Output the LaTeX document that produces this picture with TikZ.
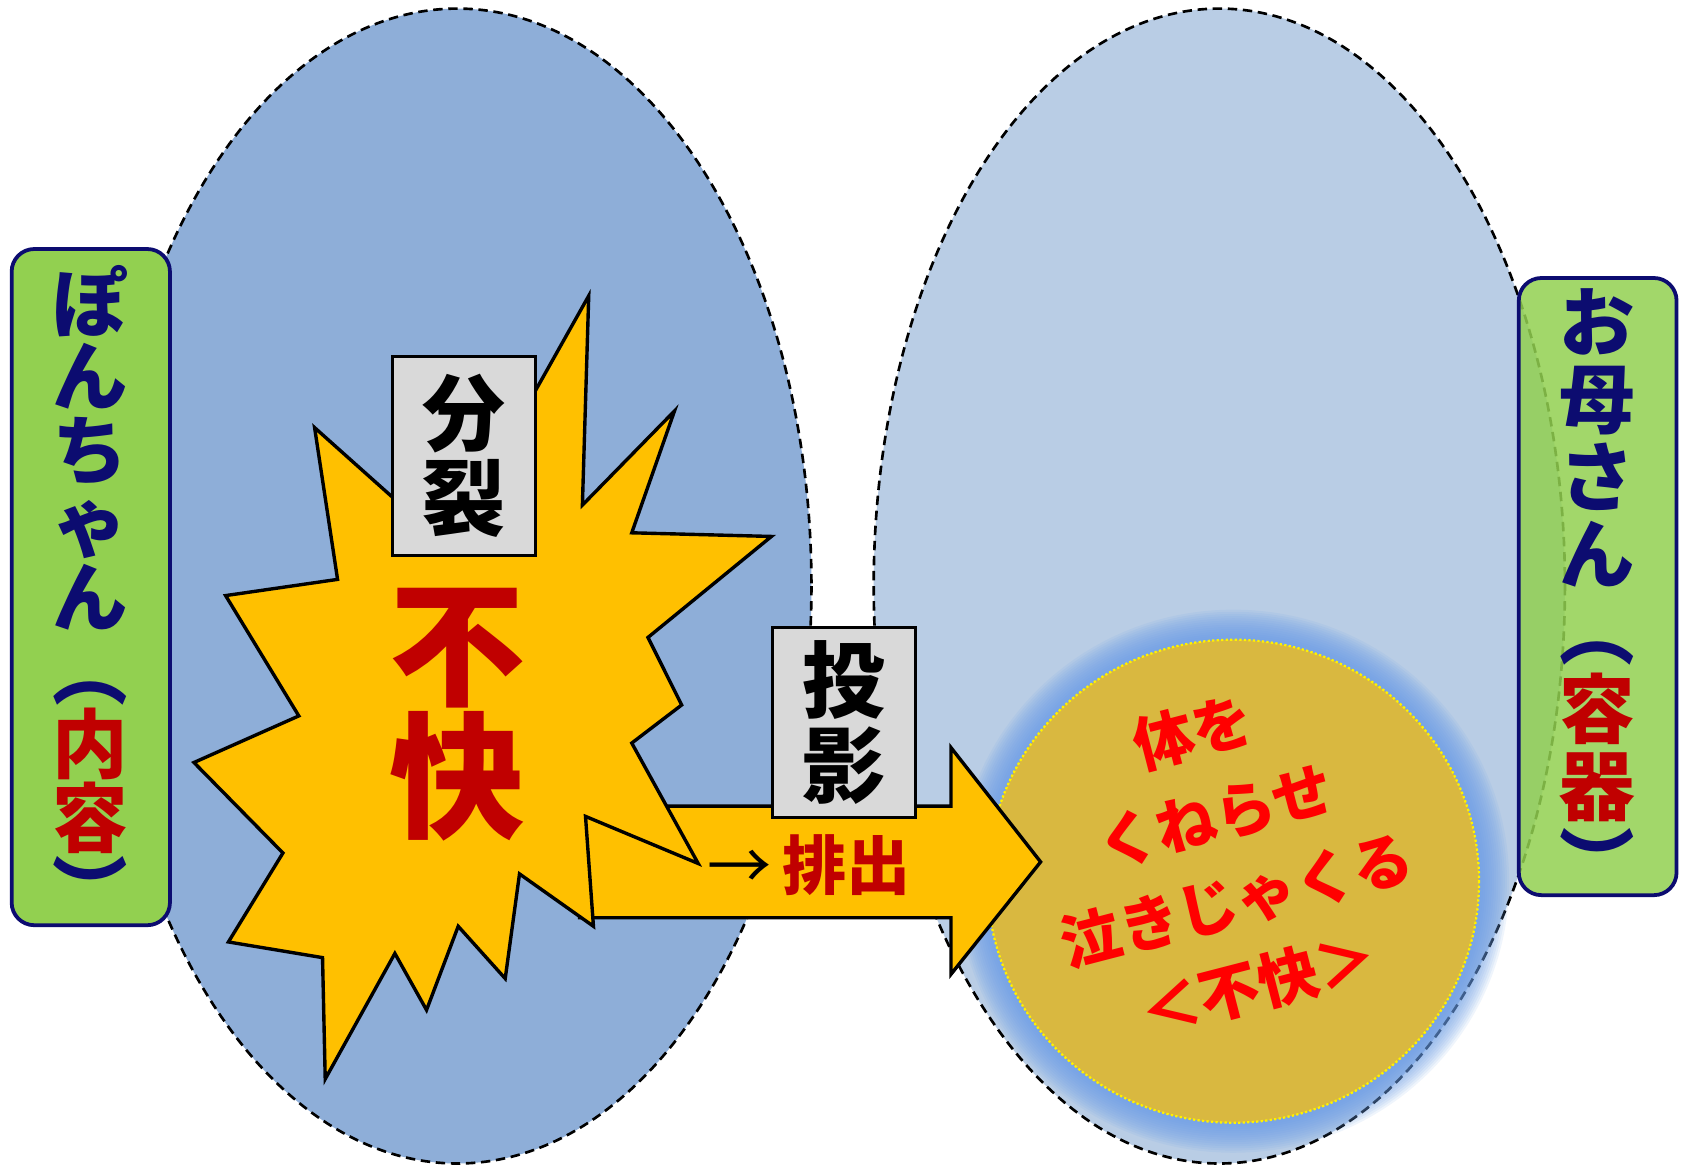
\documentclass[tikz,border=0pt]{standalone}
\usepackage{fontspec}
\newfontfamily\cjk{Noto Sans CJK JP}
\usetikzlibrary{positioning}
\definecolor{pondblue}{HTML}{8EAED8}
\definecolor{mamablue}{HTML}{B9CDE5}
\definecolor{boxgreen}{HTML}{92D050}
\definecolor{navy}{HTML}{0C0C70}
\definecolor{darkred}{HTML}{C00000}
\definecolor{burst}{HTML}{FFC000}
\definecolor{labelgray}{HTML}{D9D9D9}
\definecolor{gold}{HTML}{D9B840}
\definecolor{glow}{HTML}{6A9DE6}
\begin{document}
\begin{tikzpicture}[x=0.1mm, y=-0.1mm,
		self/.style={draw=black, line width=0.7pt, dash pattern=on 2.5pt off 1.5pt},
		yellowshape/.style={draw=black, line width=0.9pt, fill=burst, line join=miter},
		graybox/.style={draw=black, line width=0.8pt, fill=labelgray, inner sep=0pt, align=center, font=\cjk\bfseries\fontsize{22}{22.5}\selectfont},
		greenbox/.style={draw=navy, line width=1pt, fill=boxgreen, rounded corners=6pt, inner sep=0pt},
		column/.style={align=center, text=navy, font=\cjk\bfseries\fontsize{20}{19.5}\selectfont}
	]
	\fill[white] (0,0) rectangle (1568,1085);
	\useasboundingbox (0,0) rectangle (1568,1085);

	\fill[pondblue] (426,546) ellipse (330 and 538);
	\draw[self] (426,546) ellipse (330 and 538);
	\fill[mamablue] (1136,546) ellipse (322 and 538);
	\draw[self] (1136,546) ellipse (322 and 538);

	\foreach \g in {1,...,14}
		\fill[glow, opacity=0.1] (1149,821) ellipse ({229+2*\g} and {225+2*\g});
	\fill[gold] (1149,821) ellipse (229 and 225);
	\draw[yellow, line width=0.6pt, dash pattern=on 0.6pt off 0.6pt] (1149,821) ellipse (229 and 225);
	\node[rotate=14.5, align=center, text=red, font=\cjk\bfseries\fontsize{16}{23}\selectfont] (karada) at (1142,800) {体を\\くねらせ\\泣きじゃくる\\＜不快＞};

	\draw[yellowshape] (540,751) -- (886,751) -- (886,696.5) -- (969.5,803) -- (886,907.7) -- (886,855) -- (540,855) -- cycle;
	\draw[yellowshape] (548.5,275.6) -- (542.6,470.6) -- (628.4,382.9) -- (588.6,496.4) -- (718.7,499.8) -- (603.7,593.9) -- (635.1,656.8) -- (588.6,692.3) -- (650.5,804.5) -- (545.5,760.6) -- (552.9,863.0) -- (484.0,814.2) -- (470.7,911.7) -- (426.9,863.0) -- (397.4,941.0) -- (367.9,888.3) -- (303.0,1005.3) -- (300.5,892.2) -- (212.8,877.6) -- (263.6,794.7) -- (180.7,710.4) -- (278.4,667.0) -- (210.2,554.9) -- (314.5,539.8) -- (293.1,398.4) -- (417.2,509.3) -- cycle;

	\node[graybox, minimum width=13.3mm, minimum height=18.6mm] (bunretsu) at (432.2,424.8) {分\\裂};
	\node[text=darkred, align=center, font=\cjk\bfseries\fontsize{36}{35}\selectfont] (fukai) at (426,666) {不\\快};

	\node[graybox, minimum width=13.3mm, minimum height=17.7mm] (toei) at (786.3,673.3) {投\\影};
	\node[text=darkred, font=\cjk\bfseries\fontsize{17}{17}\selectfont] (haishutsu) at (754,806) {{\color{black}\mdseries →}\,排出};

	\node[greenbox, minimum width=14.75mm, minimum height=63mm] (ponbox) at (84.6,547) {};
	\node[column] (pon) at (84.5,552) {ぽ\\ん\\ち\\ゃ\\ん\\︵\\\textcolor{darkred}{内}\\\textcolor{darkred}{容}\\︶};

	\node[greenbox, fill opacity=0.85, minimum width=14.7mm, minimum height=57.5mm] (mamabox) at (1488.5,546.5) {};
	\node[column, font=\cjk\bfseries\fontsize{20}{20.5}\selectfont] (mama) at (1488,550) {お\\母\\さ\\ん\\︵\\\textcolor{darkred}{容}\\\textcolor{darkred}{器}\\︶};
\end{tikzpicture}
\end{document}
